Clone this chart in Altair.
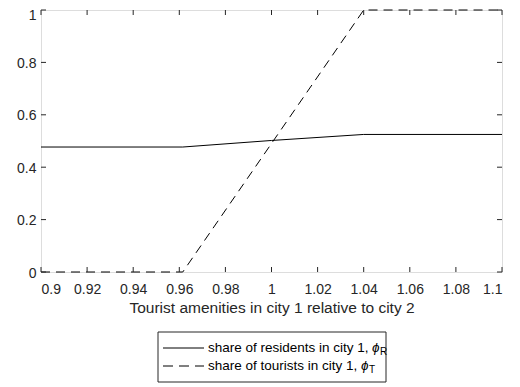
import altair as alt
import pandas as pd

# data
res_x = [0.9, 0.9615, 1.0, 1.04, 1.1]
res_y = [0.477, 0.477, 0.502, 0.525, 0.525]
tour_x = [0.9, 0.9615, 1.04, 1.1]
tour_y = [0.0, 0.0, 1.0, 1.0]
x_ticks = [0.9, 0.92, 0.94, 0.96, 0.98, 1.0, 1.02, 1.04, 1.06, 1.08, 1.1]
y_ticks = [0.0, 0.2, 0.4, 0.6, 0.8, 1.0]
x_title = "Tourist amenities in city 1 relative to city 2"
leg_res = "share of residents in city 1,"
leg_tour = "share of tourists in city 1,"
phi = "\u03d5"
sub_res = "R"
sub_tour = "T"

W, H = 461, 262
FONT = "Liberation Sans"
INK = "#262626"

res_df = pd.DataFrame({"x": res_x, "y": res_y})
tour_df = pd.DataFrame({"x": tour_x, "y": tour_y})
xt_df = pd.DataFrame({"v": x_ticks})
yt_df = pd.DataFrame({"v": y_ticks})

xs = alt.Scale(domain=[0.9, 1.1], nice=False, zero=False)
ys = alt.Scale(domain=[0, 1], nice=False, zero=False)

x_axis = alt.Axis(values=x_ticks, labelExpr="'' + round(datum.value*100)/100",
                  title=x_title, ticks=False, domain=False, grid=False,
                  labelFont=FONT, labelFontSize=14, labelColor=INK, labelPadding=10,
                  titleFont=FONT, titleFontSize=15.5, titleFontWeight="normal",
                  titleColor=INK, titlePadding=4)
y_axis = alt.Axis(values=y_ticks, labelExpr="'' + round(datum.value*10)/10",
                  title=None, ticks=False, domain=False, grid=False,
                  labelFont=FONT, labelFontSize=14, labelColor=INK, labelPadding=5,
                  labelOffset={"condition": {"test": "datum.value == 1", "value": 5}, "value": 1})

res_line = alt.Chart(res_df).mark_line(color="black", strokeWidth=1).encode(
    x=alt.X("x:Q", scale=xs, axis=x_axis),
    y=alt.Y("y:Q", scale=ys, axis=y_axis),
)
tour_line = alt.Chart(tour_df).mark_line(color="black", strokeWidth=1, strokeDash=[9, 6]).encode(
    x=alt.X("x:Q", scale=xs),
    y=alt.Y("y:Q", scale=ys),
)

TL = 5
xt_bot = alt.Chart(xt_df).mark_rule(color=INK, strokeWidth=1).encode(
    x=alt.X("v:Q", scale=xs), y=alt.value(H), y2=alt.value(H - TL))
xt_top = alt.Chart(xt_df).mark_rule(color=INK, strokeWidth=1).encode(
    x=alt.X("v:Q", scale=xs), y=alt.value(0), y2=alt.value(TL))
yt_left = alt.Chart(yt_df).mark_rule(color=INK, strokeWidth=1).encode(
    y=alt.Y("v:Q", scale=ys), x=alt.value(0), x2=alt.value(TL))
yt_right = alt.Chart(yt_df).mark_rule(color=INK, strokeWidth=1).encode(
    y=alt.Y("v:Q", scale=ys), x=alt.value(W), x2=alt.value(W - TL))

# legend (drawn below the plot, view coordinates)
LX0, LX1, LY0, LY1 = 117, 345, 322, 372
ROW1, ROW2 = 338, 356
one = pd.DataFrame({"a": [0]})
leg_box = alt.Chart(one).mark_rect(fill="white", stroke=INK, strokeWidth=1).encode(
    x=alt.value(LX0), x2=alt.value(LX1), y=alt.value(LY0), y2=alt.value(LY1))
leg_l1 = alt.Chart(one).mark_rule(color="black", strokeWidth=1).encode(
    x=alt.value(122), x2=alt.value(163), y=alt.value(ROW1))
leg_l2 = alt.Chart(one).mark_rule(color="black", strokeWidth=1, strokeDash=[10, 6]).encode(
    x=alt.value(122), x2=alt.value(163), y=alt.value(ROW2))


def txt(s, x, y, size=13.5, style="normal"):
    return alt.Chart(one).mark_text(align="left", baseline="middle", font=FONT,
                                    fontSize=size, fontStyle=style, color="black").encode(
        x=alt.value(x), y=alt.value(y), text=alt.value(s))


legend_texts = [
    txt(leg_res, 167, ROW1),
    txt(leg_tour, 167, ROW2),
    txt(phi, 331, ROW1, style="italic"),
    txt(phi, 320, ROW2, style="italic"),
    txt(sub_res, 339, ROW1 + 4, size=10),
    txt(sub_tour, 328, ROW2 + 4, size=10),
]

chart = alt.layer(
    res_line, tour_line, xt_bot, xt_top, yt_left, yt_right,
    leg_box, leg_l1, leg_l2, *legend_texts,
).properties(
    width=W, height=H,
    autosize=alt.AutoSizeParams(type="none"),
    padding={"left": 33, "top": 2, "right": 10, "bottom": 112},
).configure_view(
    stroke=INK, strokeWidth=1,
).configure(background="white")

chart.save("out.html", embed_options={"renderer": "svg", "actions": False})
